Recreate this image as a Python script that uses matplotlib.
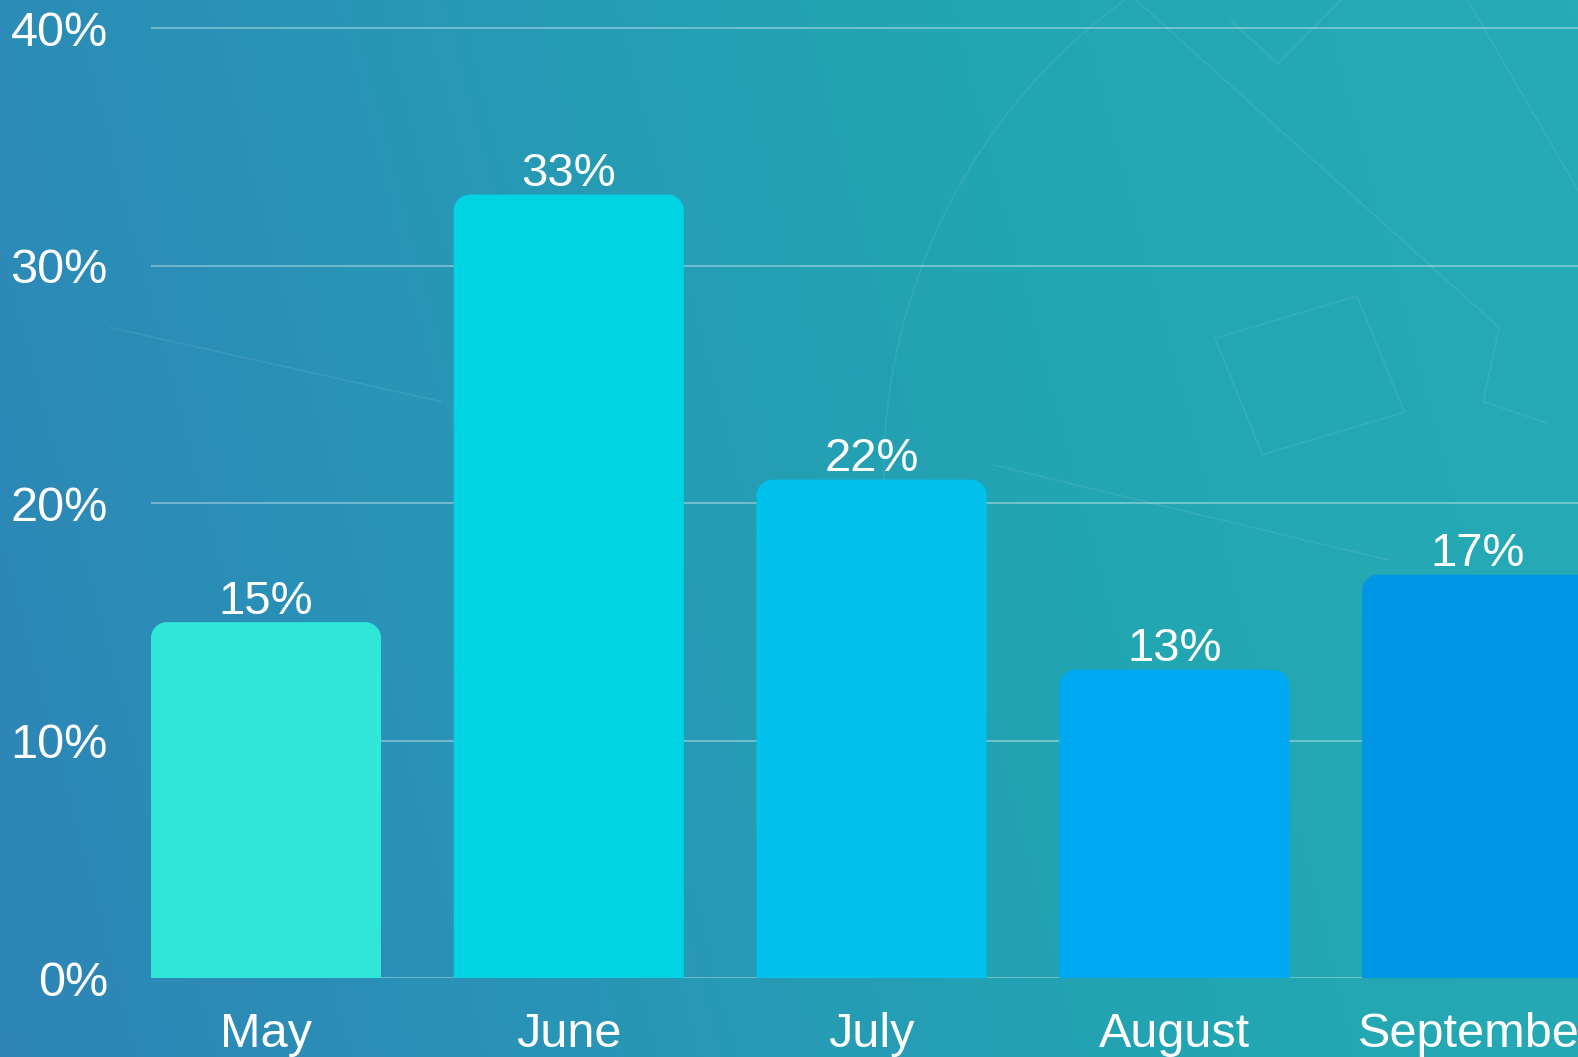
"""Monthly share bar chart on a blue-teal gradient background."""

import matplotlib

matplotlib.use("Agg")
import matplotlib.pyplot as plt
import numpy as np
from matplotlib.colors import LinearSegmentedColormap
from matplotlib.patches import PathPatch
from matplotlib.path import Path

months = ["May", "June", "July", "August", "September"]
shares = [15, 33, 21, 13, 17]
share_labels = ["15%", "33%", "22%", "13%", "17%"]
bar_colors = ["#30e6d8", "#00d4e2", "#00c2ec", "#00aaf2", "#0096e6"]
y_ticks = [0, 10, 20, 30, 40]

plt.rcParams["font.family"] = ["Liberation Sans", "DejaVu Sans"]

W, H, DPI = 1578, 1057, 100
fig = plt.figure(figsize=(W / DPI, H / DPI), dpi=DPI)

# gradient background
bg = fig.add_axes([0, 0, 1, 1], zorder=-10)
bg_cmap = LinearSegmentedColormap.from_list("bg", ["#2e84b6", "#2896b6", "#22a6b2", "#27abb6"])
gx, gy = np.meshgrid(np.linspace(0, 1, 400), np.linspace(0, 1, 300))
bg.imshow(0.85 * gx + 0.15 * (1 - gy), cmap=bg_cmap, aspect="auto",
          extent=[0, 1, 0, 1], origin="upper")
bg.set_axis_off()

# faint decorative lines
deco = [
    ([0.72, 0.95, 0.94, 0.98], [1.0, 0.69, 0.62, 0.60]),
    ([0.63, 0.88], [0.56, 0.47]),
    ([0.77, 0.80, 0.89, 0.86, 0.77], [0.68, 0.57, 0.61, 0.72, 0.68]),
    ([0.93, 1.0], [1.0, 0.82]),
    ([0.78, 0.81, 0.85], [0.98, 0.94, 1.0]),
    ([0.07, 0.28], [0.69, 0.62]),
]
for xs, ys in deco:
    bg.plot(xs, ys, color="white", alpha=0.08, linewidth=1.2, transform=bg.transAxes)
theta = np.linspace(np.pi * 0.55, np.pi * 1.15, 100)
bg.plot(0.92 + 0.36 * np.cos(theta), 0.55 + 0.55 * np.sin(theta),
        color="white", alpha=0.07, linewidth=1.2, transform=bg.transAxes)
bg.set_xlim(0, 1)
bg.set_ylim(0, 1)

ax = fig.add_axes([150 / 1568, 1 - 972 / 1050, 1 - 150 / 1568, 972 / 1050])
ax.patch.set_alpha(0)

x = np.arange(len(months))
bar_width = 0.76
bars = ax.bar(x, shares, width=bar_width, color=bar_colors, zorder=3)

ax.set_xlim(-bar_width / 2, 4.333)
ax.set_ylim(0, 41.19)

# rounded top corners, radius in pixels converted to data units
fig.canvas.draw()
px_per_x = ax.transData.transform((1, 0))[0] - ax.transData.transform((0, 0))[0]
px_per_y = ax.transData.transform((0, 1))[1] - ax.transData.transform((0, 0))[1]
radius_px = 16
rx, ry = radius_px / px_per_x, radius_px / px_per_y
k = 0.5523
for rect in list(bars):
    x0, y0 = rect.get_x(), rect.get_y()
    w, h = rect.get_width(), rect.get_height()
    x1, y1 = x0 + w, y0 + h
    verts = [
        (x0, y0), (x1, y0), (x1, y1 - ry),
        (x1, y1 - ry + k * ry), (x1 - rx + k * rx, y1), (x1 - rx, y1),
        (x0 + rx, y1),
        (x0 + rx - k * rx, y1), (x0, y1 - ry + k * ry), (x0, y1 - ry),
        (x0, y0),
    ]
    codes = [Path.MOVETO, Path.LINETO, Path.LINETO,
             Path.CURVE4, Path.CURVE4, Path.CURVE4,
             Path.LINETO,
             Path.CURVE4, Path.CURVE4, Path.CURVE4,
             Path.CLOSEPOLY]
    ax.add_patch(PathPatch(Path(verts, codes), facecolor=rect.get_facecolor(),
                           edgecolor="none", zorder=3))
    rect.remove()

for xi, val, lab in zip(x, shares, share_labels):
    ax.annotate(lab, (xi, val), xytext=(0, 6), textcoords="offset points",
                ha="center", va="baseline", color="white", fontsize=34, zorder=4)

ax.set_yticks(y_ticks)
ax.set_yticklabels([f"{t}%" for t in y_ticks])
ax.set_xticks(x)
ax.set_xticklabels(months)
ax.tick_params(axis="y", length=0, pad=31, labelsize=35, labelcolor="white")
ax.tick_params(axis="x", length=0, pad=24, labelsize=35, labelcolor="white")
ax.grid(axis="y", color="white", alpha=0.35, linewidth=1.4, zorder=1)
ax.set_axisbelow(True)
for side in ["top", "right", "left", "bottom"]:
    ax.spines[side].set_visible(False)

fig.savefig("out.png", dpi=DPI)
